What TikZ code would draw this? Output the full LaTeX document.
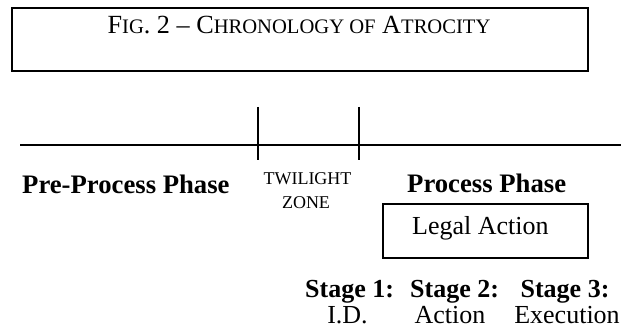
\documentclass[tikz,border=0pt]{standalone}
\usepackage{fontspec}
\setmainfont{Liberation Serif}
\begin{document}
\begin{tikzpicture}[x=1pt,y=-1pt,
  boxline/.style={draw=black,line width=1.3pt},
  axis/.style={line width=2.4pt,black},
  tick/.style={line width=2.8pt,black},
  lbl/.style={inner sep=0pt,font=\fontsize{26.7}{28}\selectfont\bfseries},
  stg/.style={inner sep=0pt,font=\fontsize{26}{28}\selectfont\bfseries},
  reg/.style={inner sep=0pt,font=\fontsize{26}{28}\selectfont},
  tw/.style={inner sep=0pt,font=\fontsize{18}{20}\selectfont}]
\useasboundingbox (0,0) rectangle (621,331);
% title box
\draw[boxline] (12,8) rectangle (588,71);
\node[inner sep=0pt,anchor=base] (title) at (299,34)
  {\fontsize{26.2}{28}\selectfont F{\fontsize{20.6}{22}\selectfont IG}. 2 -- C{\fontsize{20.6}{22}\selectfont HRONOLOGY OF} A{\fontsize{20.6}{22}\selectfont TROCITY}};
% timeline
\coordinate (L) at (20,145);
\coordinate (R) at (621,145);
\draw[axis] (L) -- (R);
\coordinate (t1a) at (258,107);
\coordinate (t1b) at (258,160);
\coordinate (t2a) at (359,107);
\coordinate (t2b) at (359,160);
\draw[tick] (t1a) -- (t1b);
\draw[tick] (t2a) -- (t2b);
% labels
\node[lbl,anchor=base west] (pre) at (22,194) {Pre-Process Phase};
\node[tw,anchor=base] (tw1) at (307.5,185) {TWILIGHT};
\node[tw,anchor=base] (tw2) at (306,208) {ZONE};
\node[lbl,anchor=base west] (proc) at (407,193) {Process Phase};
% legal action box
\draw[boxline] (383,204) rectangle (588,258);
\node[reg,anchor=base west] (legal) at (412,235) {Legal Action};
% stages
\node[stg,anchor=base west] (s1) at (305,297) {Stage 1:};
\node[stg,anchor=base west] (s2) at (410,297) {Stage 2:};
\node[stg,anchor=base] (s3) at (565,297) {Stage 3:};
\node[reg,anchor=base] (d1) at (347.5,323) {I.D.};
\node[reg,anchor=base] (d2) at (450,323) {Action};
\node[reg,anchor=base] (d3) at (567,323) {Execution};
\end{tikzpicture}
\end{document}
